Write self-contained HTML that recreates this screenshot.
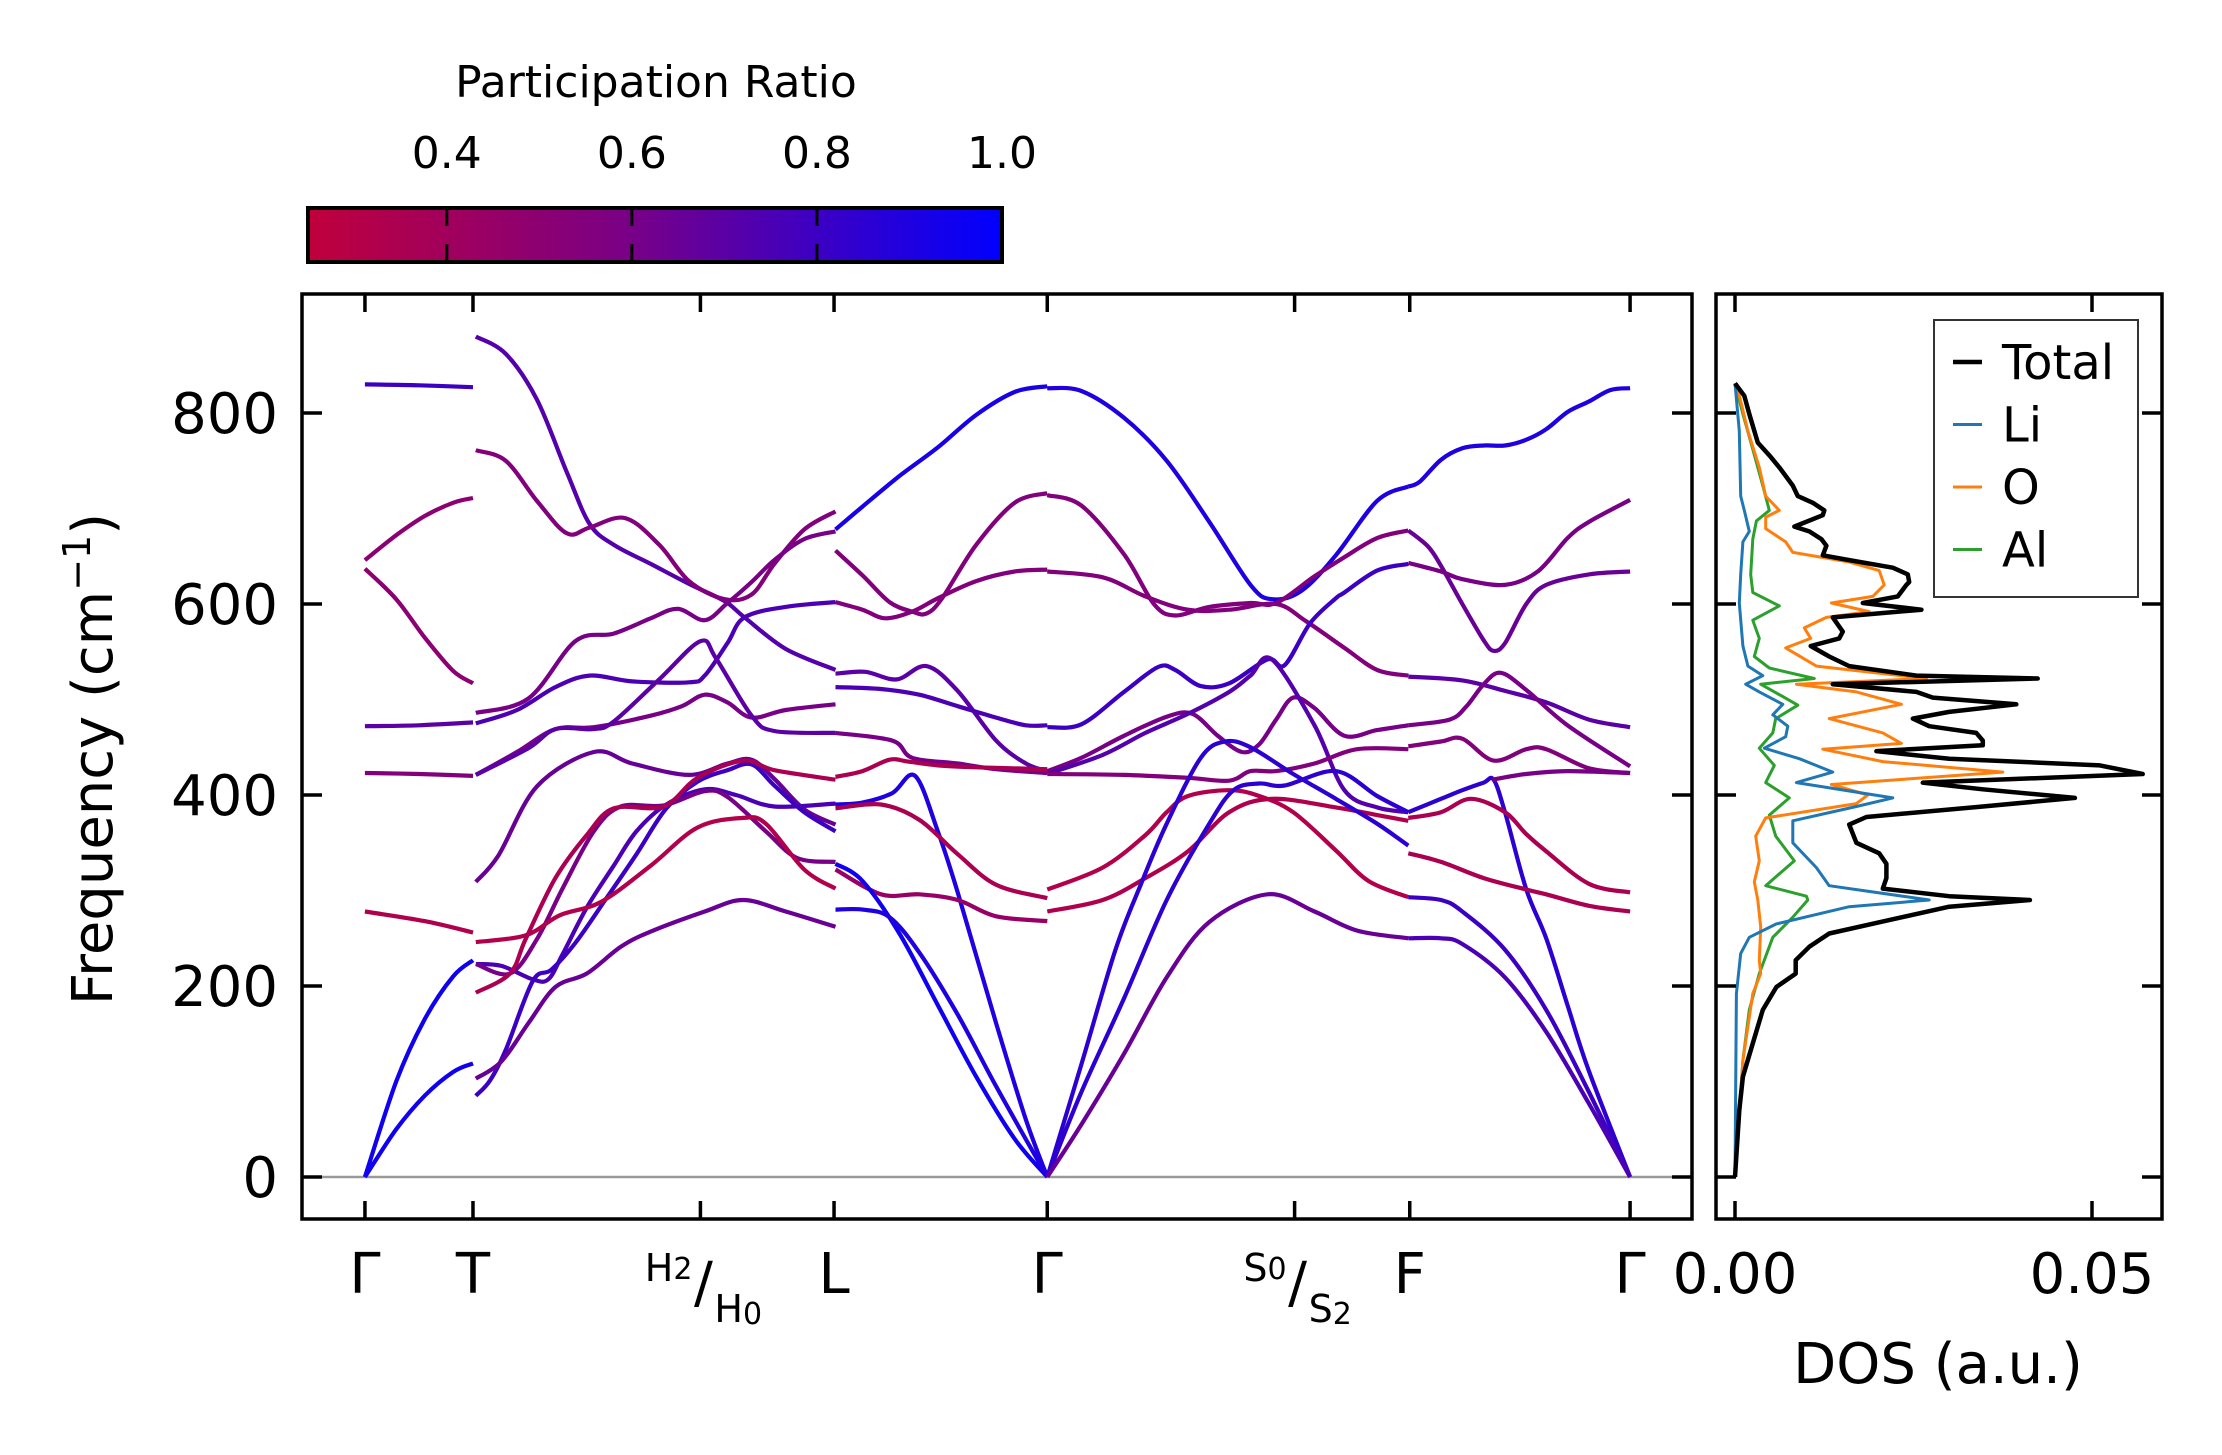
<!DOCTYPE html>
<html><head><meta charset="utf-8"><style>
html,body{margin:0;padding:0;background:#fff}
svg{display:block}
text{font-family:"DejaVu Sans","Liberation Sans",sans-serif;fill:#000}
</style></head><body>
<svg id="fig" width="2222" height="1455" viewBox="0 0 2222 1455" xmlns="http://www.w3.org/2000/svg">
<defs>
<linearGradient id="cmap" x1="0" x2="1" y1="0" y2="0">
<stop offset="0" stop-color="rgb(192,0,60)"/>
<stop offset="0.467" stop-color="rgb(120,0,135)"/>
<stop offset="1" stop-color="rgb(0,0,255)"/>
</linearGradient>
<clipPath id="mainClip"><rect x="302" y="294" width="1390" height="925"/></clipPath>
<clipPath id="dosClip"><rect x="1716" y="294" width="446" height="925"/></clipPath>
</defs>
<g>
<text x="656" y="97" font-size="44" text-anchor="middle">Participation Ratio</text>
<rect x="308" y="208" width="694" height="54" fill="url(#cmap)" stroke="#000" stroke-width="4"/>
<g id="cbTicks"></g>
</g>
<g id="mainPanel"></g>
<g id="dosPanel"></g>
</svg>
<script>
// ---- data ----
const cbTickValues=[0.4,0.6,0.8,1.0];
const cbTickLabels=["0.4","0.6","0.8","1.0"];
const prMin=0.25, prMax=1.0;
const yTickValues=[0,200,400,600,800];
const yTickLabels=["0","200","400","600","800"];
const kTickValues=[258,334,494,588,738,912,993,1148];
const kTickLabels=["Γ","T","H2/H0","L","Γ","S0/S2","F","Γ"];
const bands=[
// Gamma-T
{k:[258,296,334],f:[830,829,827],pr:0.8},
{k:[258,280,300,320,334],f:[646,672,692,706,711],pr:0.5},
{k:[258,280,300,320,334],f:[637,605,565,530,517],pr:0.5},
{k:[258,296,334],f:[472,473,476],pr:0.7},
{k:[258,296,334],f:[423,422,420],pr:0.55},
{k:[258,300,334],f:[278,268,256],pr:0.33},
{k:[258,280,300,320,334],f:[0,100,165,210,227],pr:0.95},
{k:[258,280,300,320,334],f:[0,50,85,110,119],pr:0.95},
// T-H-L
{k:[336,357,379,400,416,433,459,486,511,525,554,589],f:[880,862,814,738,684,662,642,621,603,586,553,531],pr:0.72},
{k:[336,357,379,400,416,441,465,486,511,530,546,567,589],f:[761,750,708,674,680,690,662,624,605,610,642,678,697],pr:0.55},
{k:[336,373,406,433,459,478,497,513,530,546,567,589],f:[486,501,561,569,585,595,583,601,623,646,668,676],pr:0.6},
{k:[336,365,392,416,446,486,497,513,525,554,589],f:[475,489,513,525,519,518,525,559,586,597,602],pr:0.75},
{k:[336,365,392,419,459,481,497,513,530,554,589],f:[421,445,469,471,483,493,505,497,481,489,495],pr:0.6},
{k:[336,352,379,419,446,486,513,530,546,567,589],f:[309,337,409,445,433,421,433,437,417,385,369],pr:0.65},
{k:[336,373,392,419,433,465,494,505,530,546,589],f:[421,449,469,469,477,521,561,543,483,467,465],pr:0.7},
{k:[336,354,376,387,397,414,433,449,470,497,519,546,589],f:[223,221,207,207,233,282,326,362,390,406,400,388,391],pr:0.75},
{k:[336,360,379,397,419,438,468,497,513,540,562,589],f:[223,213,249,302,362,388,389,404,398,362,334,330],pr:0.6},
{k:[336,346,357,376,389,406,427,449,470,492,513,530,546,567,589],f:[85,101,133,205,217,245,290,338,386,414,426,432,410,382,362],pr:0.8},
{k:[336,354,373,392,414,438,459,497,524,554,589],f:[103,121,161,199,213,241,257,278,290,278,262],pr:0.65},
{k:[336,371,395,424,459,492,524,540,567,589],f:[246,253,274,288,326,366,376,370,322,302],pr:0.32},
{k:[336,360,371,392,414,433,468,492,524,546,589],f:[193,213,249,313,358,386,388,418,436,426,416],pr:0.35},
// L-Gamma
{k:[589,608,634,661,688,715,738],f:[678,702,734,764,798,822,828],pr:0.92},
{k:[589,608,627,643,653,664,688,715,738],f:[656,630,602,592,590,606,662,706,716],pr:0.55},
{k:[589,608,624,643,661,688,715,738],f:[602,594,585,592,606,624,634,636],pr:0.55},
{k:[589,610,632,653,675,702,723,738],f:[527,529,521,535,509,457,433,425],pr:0.7},
{k:[589,621,648,675,702,723,738],f:[513,511,505,493,481,473,473],pr:0.75},
{k:[589,629,643,675,702,738],f:[465,457,439,433,427,423],pr:0.6},
{k:[589,608,627,640,661,688,738],f:[419,425,437,435,431,429,427],pr:0.35},
{k:[589,608,629,645,661,675,702,723,738],f:[390,392,402,420,362,298,161,60,0],pr:0.9},
{k:[589,621,648,675,702,738],f:[386,390,374,338,306,292],pr:0.35},
{k:[589,621,648,675,702,738],f:[322,296,296,290,273,268],pr:0.45},
{k:[589,608,634,661,688,715,738],f:[328,310,255,180,105,40,0],pr:0.95},
{k:[589,608,627,648,675,702,738],f:[280,280,272,235,170,95,0],pr:0.9},
// Gamma-S-F
{k:[738,762,792,822,852,881,896,917,941,970,992],f:[826,823,795,750,686,620,605,614,651,708,723],pr:0.9},
{k:[738,762,792,813,828,852,881,899,926,947,970,992],f:[714,703,652,600,588,597,601,601,629,649,669,677],pr:0.55},
{k:[738,777,807,837,866,899,920,947,970,992],f:[634,628,608,594,594,600,582,554,531,525],pr:0.55},
{k:[738,762,792,816,828,846,866,893,905,923,941,947,970,992],f:[471,474,508,534,531,514,517,542,536,580,606,612,635,642],pr:0.8},
{k:[738,762,792,822,840,858,875,887,899,911,926,947,970,992],f:[425,439,462,482,485,462,445,453,479,502,491,462,468,473],pr:0.6},
{k:[738,777,807,837,866,881,896,926,947,970,992],f:[422,442,465,485,508,525,542,473,405,387,382],pr:0.72},
{k:[738,792,837,866,881,899,926,956,992],f:[422,421,418,415,425,425,433,448,448],pr:0.55},
{k:[738,777,807,822,837,866,887,911,941,964,992],f:[301,324,358,382,399,405,399,382,342,310,293],pr:0.32},
{k:[738,777,807,837,866,896,941,970,992],f:[278,290,313,341,382,396,387,379,373],pr:0.33},
{k:[738,762,786,804,822,846,863,881,911,941,970,992],f:[0,118,238,307,370,439,456,450,422,396,370,347],pr:0.85},
{k:[738,762,792,822,852,869,887,905,941,970,992],f:[0,89,187,290,370,405,412,410,425,399,382],pr:0.85},
{k:[738,762,792,822,852,893,926,956,992],f:[0,55,129,209,267,296,278,258,250],pr:0.65},
// F-Gamma
{k:[992,1000,1015,1030,1045,1060,1075,1089,1104,1119,1134,1148],f:[723,728,751,763,766,766,772,783,801,812,824,826],pr:0.9},
{k:[992,1006,1015,1030,1045,1052,1060,1075,1089,1119,1148],f:[677,660,640,600,562,551,559,600,620,631,634],pr:0.65},
{k:[992,1015,1030,1060,1083,1104,1119,1148],f:[643,634,626,620,634,669,686,709],pr:0.6},
{k:[992,1030,1060,1089,1119,1148],f:[524,520,509,497,479,471],pr:0.7},
{k:[992,1021,1033,1045,1057,1075,1104,1148],f:[473,479,493,516,528,510,473,430],pr:0.6},
{k:[992,1015,1030,1052,1075,1089,1119,1148],f:[451,456,459,436,448,448,428,423],pr:0.55},
{k:[992,1015,1030,1045,1052,1060,1075,1089,1104,1119,1148],f:[382,396,405,413,416,382,301,250,180,111,0],pr:0.85},
{k:[1051,1075,1104,1148],f:[416,422,425,423],pr:0.6},
{k:[992,1015,1036,1060,1075,1089,1119,1148],f:[376,382,396,382,359,341,307,298],pr:0.35},
{k:[992,1015,1045,1075,1089,1119,1148],f:[339,330,313,301,296,284,278],pr:0.35},
{k:[992,1015,1030,1060,1089,1119,1148],f:[293,290,278,238,175,89,0],pr:0.8},
{k:[992,1015,1030,1060,1089,1119,1148],f:[250,250,244,209,152,77,0],pr:0.75}
];
// DOS (units of 1e-3 a.u.)
const dosXTickValues=[0,50];
const dosXTickLabels=["0.00","0.05"];
const totalFreq=[831,818,799,769,754,743,724,713,706,698,693,681,676,668,661,651,646,638,631,623,620,608,601,594,586,571,564,556,545,535,525,522,516,508,502,495,487,480,472,465,457,452,446,438,431,422,413,406,397,388,377,369,350,339,328,313,302,294,290,283,269,255,241,227,213,199,175,140,105,70,0];
const totalDos=[0,1.3,2.0,3.2,5.0,6.2,8.1,8.8,10.9,12.5,12.3,8.3,10.4,12.1,12.8,12.3,16.0,22.1,24.2,24.4,24.0,22.8,17.9,26.1,13.7,15.1,14.6,10.6,13.2,16.0,25.4,42.4,13.7,25.4,27.7,39.4,30.0,24.9,27.2,33.8,34.7,34.7,19.8,30.0,51.1,57.1,26.3,34.7,47.6,34.7,18.4,16.0,17.0,20.2,21.2,21.2,20.7,30.0,41.3,30.0,21.6,13.2,10.4,8.5,8.5,5.8,3.9,2.5,1.1,0.6,0];
const liFreq=[831,781,713,698,676,665,631,601,556,535,525,516,508,495,484,472,461,449,438,424,413,397,388,373,350,324,305,290,283,265,251,234,192,0];
const liDos=[0,0.6,0.8,1.3,2.0,1.1,0.8,0.6,1.1,1.8,3.9,1.5,3.4,6.7,5.3,7.4,7.1,4.1,9.0,13.7,8.6,22.1,17.0,8.1,8.1,11.4,13.2,27.2,16.0,5.8,2.0,0.8,0.2,0];
const oFreq=[831,781,743,713,698,691,679,665,654,644,635,620,608,601,592,586,575,564,554,535,522,516,508,495,480,465,454,448,435,424,411,400,391,376,357,331,309,290,262,227,213,192,122,0];
const oDos=[0.2,1.8,3.4,4.3,6.2,4.3,4.3,7.1,8.1,16.0,20.2,20.9,19.3,13.5,18.8,12.8,9.7,10.6,7.1,11.4,26.8,8.6,17.0,23.3,13.2,20.7,23.3,12.3,20.7,37.5,13.5,18.6,17.0,4.3,2.9,3.4,2.7,3.2,3.6,3.4,3.6,2.5,1.1,0];
const alFreq=[831,799,762,724,698,687,668,631,612,598,583,564,545,533,522,516,503,494,480,465,449,431,413,397,379,357,331,305,294,290,272,251,213,175,122,0];
const alDos=[0,1.1,2.5,3.9,4.8,3.0,2.5,2.2,2.5,6.2,2.5,3.4,2.7,4.8,11.1,3.6,6.7,8.8,5.7,5.3,3.4,5.5,4.3,7.6,4.8,5.7,8.3,4.3,10.0,10.2,8.1,5.3,3.4,2.0,1.1,0];
const legendLabels=["Total","Li","O","Al"];
const legendColors=["#000000","#1f77b4","#ff7f0e","#2ca02c"];

// ---- scales ----
const NS="http://www.w3.org/2000/svg";
const yScale=f=>1177-f*0.955;
const kScale=k=>1.4215*k-1.8;
const dosScale=v=>1735+v*7.14;
const cbScale=p=>308+(p-prMin)/(prMax-prMin)*694;
function prColor(p){
  const t=Math.max(0,Math.min(1,(p-prMin)/(prMax-prMin)));
  let a,b,u;
  if(t<0.467){a=[192,0,60];b=[120,0,135];u=t/0.467;}else{a=[120,0,135];b=[0,0,255];u=(t-0.467)/0.533;}
  return `rgb(${Math.round(a[0]+(b[0]-a[0])*u)},${Math.round(a[1]+(b[1]-a[1])*u)},${Math.round(a[2]+(b[2]-a[2])*u)})`;
}
function mk(tag,attrs,parent){const e=document.createElementNS(NS,tag);for(const a in attrs)e.setAttribute(a,attrs[a]);parent.appendChild(e);return e;}
function smoothPath(pts){
  let d=`M${pts[0][0].toFixed(1)},${pts[0][1].toFixed(1)}`;
  for(let i=0;i<pts.length-1;i++){
    const p0=pts[Math.max(0,i-1)],p1=pts[i],p2=pts[i+1],p3=pts[Math.min(pts.length-1,i+2)];
    const c1=[p1[0]+(p2[0]-p0[0])/6,p1[1]+(p2[1]-p0[1])/6];
    const c2=[p2[0]-(p3[0]-p1[0])/6,p2[1]-(p3[1]-p1[1])/6];
    d+=`C${c1[0].toFixed(1)},${c1[1].toFixed(1)} ${c2[0].toFixed(1)},${c2[1].toFixed(1)} ${p2[0].toFixed(1)},${p2[1].toFixed(1)}`;
  }
  return d;
}
function polyPath(xs,ys){return xs.map((x,i)=>(i?'L':'M')+x.toFixed(1)+','+ys[i].toFixed(1)).join('');}

// ---- colorbar ticks ----
const cbG=document.getElementById('cbTicks');
cbTickValues.forEach((v,i)=>{
  const x=cbScale(v);
  if(v<prMax){
    const t1=mk('line',{x1:x,x2:x,y1:208,y2:226,stroke:'#000','stroke-width':3},cbG);
    
    
    const t2=mk('line',{x1:x,x2:x,y1:244,y2:262,stroke:'#000','stroke-width':3},cbG);
    
    
  }
  const lb=mk('text',{x:x,y:168,'font-size':44,'text-anchor':'middle'},cbG);
  lb.textContent=cbTickLabels[i];
  
  
});

// ---- main panel ----
const mp=document.getElementById('mainPanel');
const zl=mk('line',{x1:302,x2:1692,y1:yScale(0),y2:yScale(0),stroke:'#999','stroke-width':2.5},mp);


const bandG=mk('g',{'clip-path':'url(#mainClip)'},mp);


bands.forEach((b,i)=>{
  const pts=b.k.map((k,j)=>[kScale(k),yScale(b.f[j])]);
  const p=mk('path',{d:smoothPath(pts),fill:'none',stroke:prColor(b.pr),'stroke-width':4.2,'stroke-linecap':'butt'},bandG);
  
  
});
const fr=mk('rect',{x:302,y:294,width:1390,height:925,fill:'none',stroke:'#000','stroke-width':3.5},mp);


yTickValues.forEach((v,i)=>{
  const y=yScale(v);
  const t=mk('path',{d:`M302,${y}h20M1692,${y}h-20`,stroke:'#000','stroke-width':3.5},mp);
  
  
  const lb=mk('text',{x:278,y:y+20,'font-size':56,'text-anchor':'end'},mp);
  lb.textContent=yTickLabels[i];
  
  
});
kTickValues.forEach((v,i)=>{
  const x=kScale(v);
  const t=mk('path',{d:`M${x},1219v-18M${x},294v18`,stroke:'#000','stroke-width':3.5},mp);
  
  
  const lab=kTickLabels[i];
  if(lab.indexOf('/')>=0){
    const parts=lab.split('/');
    const g=mk('g',{},mp);
    
    
    const a=mk('text',{x:x-8,y:1281,'font-size':38,'text-anchor':'end'},g);
    a.innerHTML=parts[0][0]+'<tspan font-size="30" dy="-2">'+parts[0].slice(1)+'</tspan>';
    const s=mk('text',{x:x+3,y:1302,'font-size':56,'text-anchor':'middle'},g);
    s.textContent='/';
    const c=mk('text',{x:x+14,y:1322,'font-size':38,'text-anchor':'start'},g);
    c.innerHTML=parts[1][0]+'<tspan font-size="30" dy="2">'+parts[1].slice(1)+'</tspan>';
  } else {
    const lb=mk('text',{x:x,y:1293,'font-size':56,'text-anchor':'middle'},mp);
    lb.textContent=lab;
    
    
  }
});
const yl=mk('text',{x:0,y:0,'font-size':56,'text-anchor':'middle',transform:'translate(112,759) rotate(-90)'},mp);
yl.innerHTML='Frequency (cm<tspan font-size="38" dy="-22">−1</tspan><tspan dy="22">)</tspan>';



// ---- DOS panel ----
const dp=document.getElementById('dosPanel');
const dg=mk('g',{'clip-path':'url(#dosClip)'},dp);
const series=[[alFreq,alDos,3],[oFreq,oDos,2],[liFreq,liDos,1],[totalFreq,totalDos,0]];
const seriesNames=['dos-al','dos-o','dos-li','dos-total'];
series.forEach((s,i)=>{
  const xs=s[1].map(dosScale), ys=s[0].map(yScale);
  const p=mk('path',{d:polyPath(xs,ys),fill:'none',stroke:legendColors[s[2]],'stroke-width':s[2]===0?4.5:3,'stroke-linejoin':'round'},dg);
  
  
});
const df=mk('rect',{x:1716,y:294,width:446,height:925,fill:'none',stroke:'#000','stroke-width':3.5},dp);


yTickValues.forEach(v=>{
  const y=yScale(v);
  const t=mk('path',{d:`M1716,${y}h20M2162,${y}h-20`,stroke:'#000','stroke-width':3.5},dp);
  
  
});
dosXTickValues.forEach((v,i)=>{
  const x=dosScale(v);
  const t=mk('path',{d:`M${x},1219v-18M${x},294v18`,stroke:'#000','stroke-width':3.5},dp);
  
  
  const lb=mk('text',{x:x,y:1293,'font-size':56,'text-anchor':'middle'},dp);
  lb.textContent=dosXTickLabels[i];
  
  
});
const dxl=mk('text',{x:1938,y:1383,'font-size':56,'text-anchor':'middle'},dp);
dxl.textContent='DOS (a.u.)';


// legend
const lg=mk('g',{},dp);


const lbx=mk('rect',{x:1934,y:320,width:204,height:277,fill:'#fff',stroke:'#333','stroke-width':2},lg);


legendLabels.forEach((l,i)=>{
  const y=362+i*62.5;
  const ln=mk('line',{x1:1953,x2:1982,y1:y,y2:y,stroke:legendColors[i],'stroke-width':i===0?4.5:3},lg);
  
  
  const tx=mk('text',{x:2002,y:y+17,'font-size':48},lg);
  tx.textContent=l;
  
  
});
</script>
</body></html>
